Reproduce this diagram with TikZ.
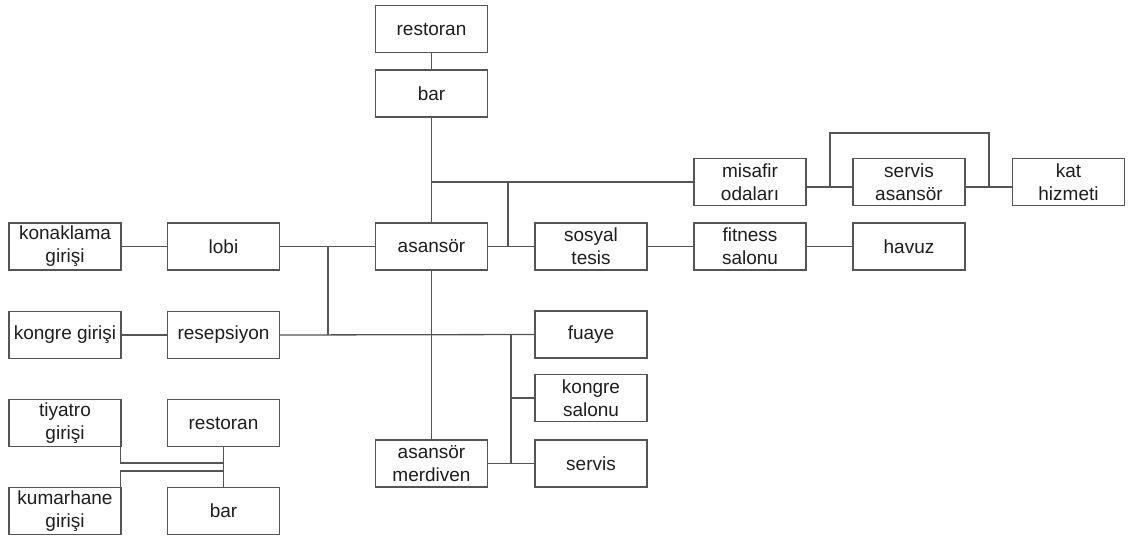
\documentclass[tikz,border=0pt]{standalone}
\usepackage{fontspec}
\setmainfont{Liberation Sans}
\definecolor{linec}{RGB}{85,85,85}
\definecolor{txtc}{RGB}{30,30,30}
\begin{document}
\begin{tikzpicture}[x=1pt,y=-1pt,
  box/.style={draw=linec, line width=1.3pt, fill=white, minimum width=112pt, minimum height=47pt,
    inner sep=0pt, align=center, text=txtc, font=\fontsize{19}{23}\selectfont},
  conn/.style={draw=linec, line width=1.3pt}]
\useasboundingbox[fill=white] (0,0) rectangle (1128,540);
% nodes
\node[box] (restoranT) at (431.5,29) {restoran};
\node[box] (barT) at (431.5,93.5) {bar};
\node[box] (asansor) at (431.5,246.5) {asansör};
\node[box] (konaklama) at (65,246.5) {konaklama\\girişi};
\node[box] (lobi) at (223.5,246.5) {lobi};
\node[box] (kongreG) at (65,335) {kongre girişi};
\node[box] (resepsiyon) at (223.5,335) {resepsiyon};
\node[box] (tiyatro) at (65,423) {tiyatro\\girişi};
\node[box] (restoranB) at (223.5,423) {restoran};
\node[box] (kumarhane) at (65,511) {kumarhane\\girişi};
\node[box] (barB) at (223.5,511) {bar};
\node[box] (sosyal) at (591,246.5) {sosyal\\tesis};
\node[box] (fitness) at (750,246.5) {fitness\\salonu};
\node[box] (havuz) at (909,246.5) {havuz};
\node[box] (misafir) at (750,182) {misafir\\odaları};
\node[box] (servisA) at (909,182) {servis\\asansör};
\node[box] (kat) at (1068.5,182) {kat\\hizmeti};
\node[box] (fuaye) at (591,334.5) {fuaye};
\node[box] (kongreS) at (591,398) {kongre\\salonu};
\node[box] (servis) at (591,463.5) {servis};
\node[box] (merdiven) at (431.5,463.5) {asansör\\merdiven};
% junction coordinates
\coordinate (j1) at (431.5,182);
\coordinate (j2) at (508,182);
\coordinate (j3) at (508,246.5);
\coordinate (j4) at (328,246.5);
\coordinate (j5) at (328,335);
\coordinate (j6) at (511,335);
\coordinate (j7) at (511,398);
\coordinate (j8) at (511,463.5);
\coordinate (l1) at (830,187);
\coordinate (l2) at (989,187);
\coordinate (l3) at (830,133);
\coordinate (l4) at (989,133);
\coordinate (b1) at (223.5,463);
\coordinate (b2) at (223.5,471);
% connectors
\draw[conn] (restoranT.south) -- (barT.north);
\draw[conn] (barT.south) -- (asansor.north);
\draw[conn] (j1) -- (misafir.west);
\draw[conn] (j2) -- (j3);
\draw[conn] (asansor.east) -- (sosyal.west);
\draw[conn] (sosyal.east) -- (fitness.west);
\draw[conn] (fitness.east) -- (havuz.west);
\draw[conn] ([yshift=-5pt]misafir.east) -- ([yshift=-5pt]servisA.west);
\draw[conn] ([yshift=-5pt]servisA.east) -- ([yshift=-5pt]kat.west);
\draw[conn] (l1) -- (l3) -- (l4) -- (l2);
\draw[conn] (konaklama.east) -- (lobi.west);
\draw[conn] (lobi.east) -- (asansor.west);
\draw[conn] (j4) -- (j5);
\draw[conn] (kongreG.east) -- (resepsiyon.west);
\draw[conn] (resepsiyon.east) -- (fuaye.west);
\draw[conn] (asansor.south) -- (merdiven.north);
\draw[conn] (j6) -- (j8);
\draw[conn] (j7) -- (kongreS.west);
\draw[conn] (merdiven.east) -- (servis.west);
\draw[conn] (restoranB.south) -- (barB.north);
\draw[conn] ([xshift=-1pt]tiyatro.south east) |- (b1);
\draw[conn] ([xshift=-1pt]kumarhane.north east) |- (b2);
\end{tikzpicture}
\end{document}
